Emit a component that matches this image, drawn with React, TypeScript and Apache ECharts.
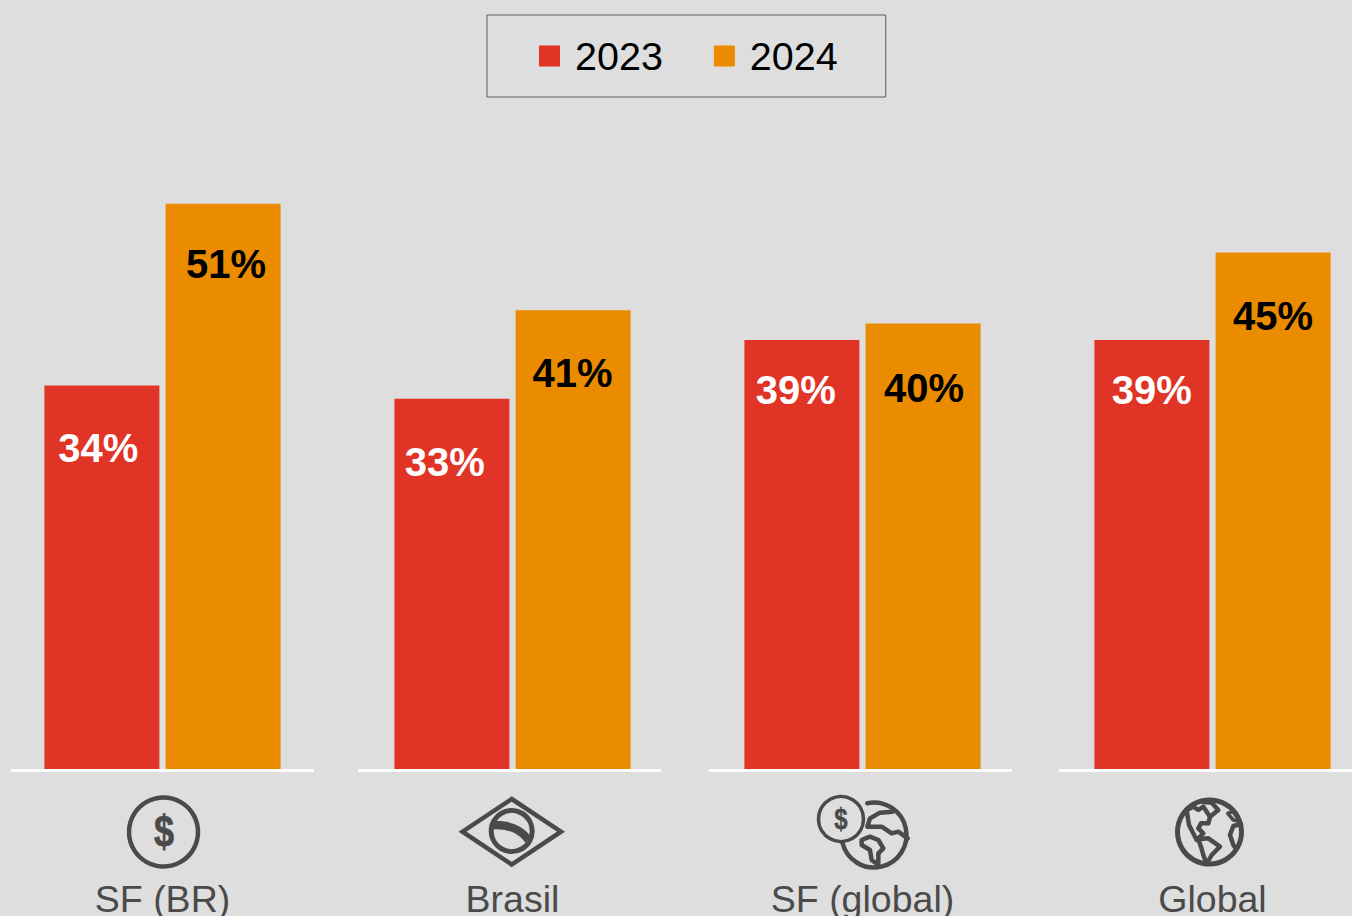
import React, { useEffect, useRef } from "react";
import * as echarts from "echarts";

const categories = ["SF (BR)", "Brasil", "SF (global)", "Global"];
const seriesNames = ["2023", "2024"];
const values2023 = [34.6, 33.4, 38.7, 38.7];
const values2024 = [51, 41.4, 40.2, 46.6];
const labels2023 = ["34%", "33%", "39%", "39%"];
const labels2024 = ["51%", "41%", "40%", "45%"];

const offsets2023 = [[-3.5, 37], [-7, 38], [-6, 25], [0, 25]];
const offsets2024 = [[3, 35], [-0.5, 38], [1, 40], [0, 38]];
const baselineStarts = [11, 358, 709, 1059];

const FONT = "'Liberation Sans', Arial, sans-serif";
const INK = "#4a4a4a";
const RED = "#e03426";
const ORANGE = "#eb8c00";

echarts.graphic.registerShape(
  "brasilBand",
  echarts.graphic.extendPath("M491.7 821.5 C505 819.5 523 824 531 837 L525 842.5 C519 833 507 828.5 491.7 829.5 Z", {})
);

const line = { stroke: INK, lineWidth: 4.5, fill: "none", lineJoin: "round", lineCap: "round" };

const pts = (ox: number, oy: number, zoomed: number[][]) => zoomed.map(([x, y]) => [ox + x / 3, oy + y / 3]);

function icons() {
  const out: any[] = [];
  // SF (BR)
  out.push({ type: "circle", shape: { cx: 163.5, cy: 832, r: 34.5 }, style: line });
  out.push({
    type: "text", x: 164, y: 832, scaleY: 1.25,
    style: { text: "$", font: `bold 36px ${FONT}`, fill: INK, stroke: INK, lineWidth: 0.6, align: "center", verticalAlign: "middle" },
  });
  // Brasil
  out.push({
    type: "polygon",
    shape: { points: [[511.7, 799], [561, 831.7], [511.7, 864.5], [462.5, 831.7]] },
    style: { ...line, lineJoin: "miter" },
  });
  out.push({ type: "circle", shape: { cx: 511.7, cy: 831, r: 20.5 }, style: { ...line, lineWidth: 5 } });
  out.push({ type: "brasilBand", style: { fill: INK } });
  // SF (global)
  out.push({ type: "circle", shape: { cx: 841, cy: 819, r: 22.5 }, style: { ...line, lineWidth: 3.5 } });
  out.push({
    type: "text", x: 841, y: 819, scaleY: 1.25,
    style: { text: "$", font: `bold 24px ${FONT}`, fill: INK, stroke: INK, lineWidth: 0.4, align: "center", verticalAlign: "middle" },
  });
  out.push({
    type: "arc",
    shape: { cx: 874, cy: 835, r: 32.5, startAngle: -1.78, endAngle: 2.9, clockwise: true },
    style: line,
  });
  out.push({
    type: "polyline",
    shape: { points: pts(810, 790, [[248, 65], [210, 68], [180, 85], [172, 110], [215, 110], [245, 130], [265, 125], [293, 145]]) },
    style: line,
  });
  out.push({
    type: "polygon",
    shape: { points: pts(810, 790, [[155, 150], [180, 140], [205, 150], [220, 175], [205, 190], [205, 225], [185, 210], [180, 180], [155, 165]]) },
    style: line,
  });
  // Global
  out.push({ type: "circle", shape: { cx: 1209.5, cy: 832, r: 32 }, style: { ...line, lineWidth: 5 } });
  out.push({
    type: "polyline",
    shape: { points: pts(1165, 790, [[65, 60], [72, 105], [95, 150], [115, 130], [100, 115], [108, 100], [130, 100], [135, 80], [125, 65], [115, 50], [100, 60], [85, 50], [65, 60]]) },
    style: line,
  });
  out.push({
    type: "polyline",
    shape: { points: pts(1165, 790, [[110, 35], [140, 38], [160, 60], [135, 80]]) },
    style: line,
  });
  out.push({
    type: "polyline",
    shape: { points: pts(1165, 790, [[100, 148], [130, 145], [165, 170], [140, 195], [125, 222], [115, 195], [108, 170], [100, 148]]) },
    style: line,
  });
  out.push({
    type: "polyline",
    shape: { points: pts(1165, 790, [[188, 70], [205, 65], [225, 95], [205, 90], [188, 70]]) },
    style: { ...line, lineWidth: 3.5 },
  });
  out.push({
    type: "polyline",
    shape: { points: pts(1165, 790, [[228, 102], [205, 108], [195, 135], [205, 165], [212, 175]]) },
    style: line,
  });
  return out;
}

function buildOption() {
  const dataOf = (values: number[], labels: string[], offsets: number[][], color: string) =>
    values.map((value, i) => ({
      value,
      label: { formatter: labels[i], offset: offsets[i], color },
    }));
  const labelStyle = {
    show: true,
    position: "insideTop",
    fontFamily: FONT,
    fontWeight: "bold",
    fontSize: 40,
  };
  return {
    animation: false,
    backgroundColor: "#dedede",
    legend: {
      left: 487,
      top: 15,
      data: seriesNames,
      icon: "rect",
      itemWidth: 21,
      itemHeight: 21,
      itemGap: 51,
      padding: [21, 48, 21, 52],
      borderWidth: 1,
      borderColor: "#5a5a5a",
      selectedMode: false,
      textStyle: { fontFamily: FONT, fontSize: 39.5, color: "#000", padding: [0, 0, 0, 10] },
    },
    grid: { left: 162.5, width: 1050, top: 104, height: 665, containLabel: false, outerBoundsMode: "none" },
    xAxis: {
      type: "category",
      data: categories,
      boundaryGap: false,
      axisLine: { show: false },
      axisTick: { show: false },
      axisLabel: { interval: 0, margin: 111, fontFamily: FONT, fontSize: 37.5, color: INK },
    },
    yAxis: { type: "value", min: 0, max: 60, show: false, splitLine: { show: false } },
    series: [
      {
        name: seriesNames[0],
        type: "bar",
        clip: false,
        barWidth: 115,
        barGap: "5.4%",
        itemStyle: { color: RED },
        label: labelStyle,
        data: dataOf(values2023, labels2023, offsets2023, "#fff"),
      },
      {
        name: seriesNames[1],
        type: "bar",
        clip: false,
        barWidth: 115,
        itemStyle: { color: ORANGE },
        label: labelStyle,
        data: dataOf(values2024, labels2024, offsets2024, "#000"),
      },
    ],
    graphic: {
      elements: [
        ...baselineStarts.map((x) => ({
          type: "rect",
          z: 10,
          shape: { x, y: 769, width: 303, height: 3 },
          style: { fill: "#fff" },
        })),
        ...icons(),
      ],
    },
  };
}

export default function App() {
  const ref = useRef<HTMLDivElement>(null);
  useEffect(() => {
    document.body.style.margin = "0";
    document.body.style.overflow = "hidden";
    const chart = echarts.init(ref.current!, undefined, { renderer: "svg" });
    chart.setOption(buildOption() as any);
    return () => chart.dispose();
  }, []);
  return <div ref={ref} style={{ width: 1352, height: 916 }} />;
}
